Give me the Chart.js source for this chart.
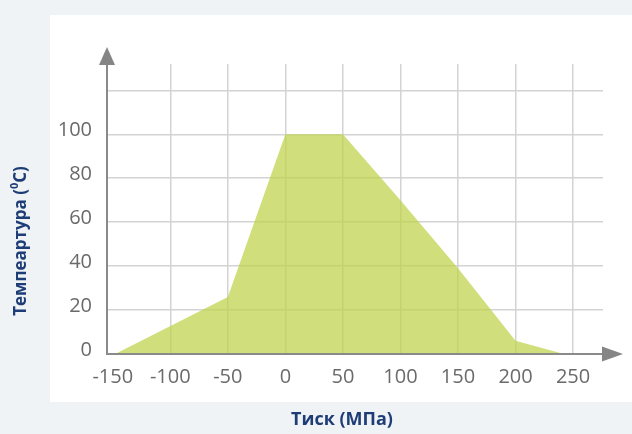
<!DOCTYPE html>
<html><head><meta charset="utf-8">
<script src="https://cdn.jsdelivr.net/npm/chart.js@4/dist/chart.umd.min.js"></script>
<style>html,body{margin:0;padding:0;background:#eff3f6;overflow:hidden}canvas{display:block}</style>
</head><body>
<canvas id="c" width="632" height="434"></canvas>
<script>
// ---- data ----
const pressure = [-148, -50, 0, 50, 100, 150, 200, 242];   // MPa
const temperature = [0, 26, 100, 100, 70, 39, 6, 0];       // °C
const xTickValues = [-150, -100, -50, 0, 50, 100, 150, 200, 250];
const yTickValues = [0, 20, 40, 60, 80, 100, 120];
const yTickLabels = ['0', '20', '40', '60', '80', '100', ''];
const xTitle = 'Тиск (МПа)';
const yTitleParts = ['Темпеартура (', '0', 'C)'];

const points = pressure.map((p, i) => ({x: p, y: temperature[i]}));

const backdrop = {
  id: 'backdrop',
  beforeDraw(chart) {
    const {ctx, width, height} = chart;
    ctx.save();
    ctx.fillStyle = '#eff3f6';
    ctx.fillRect(0, 0, width, height);
    ctx.fillStyle = '#ffffff';
    ctx.fillRect(50, 15, width - 50, 387);
    ctx.restore();
  }
};

const axesArrows = {
  id: 'axesArrows',
  afterDatasetsDraw(chart) {
    const {ctx, chartArea: a} = chart;
    ctx.save();
    ctx.strokeStyle = '#8a8a8a';
    ctx.fillStyle = '#858585';
    ctx.lineWidth = 2;
    ctx.beginPath();
    ctx.moveTo(a.left, a.bottom);
    ctx.lineTo(a.right, a.bottom);
    ctx.moveTo(a.left, a.bottom + 1);
    ctx.lineTo(a.left, a.top);
    ctx.stroke();
    // x arrow
    ctx.beginPath();
    ctx.moveTo(a.right - 1, a.bottom - 7.5);
    ctx.lineTo(a.right + 20, a.bottom);
    ctx.lineTo(a.right - 1, a.bottom + 7.5);
    ctx.closePath();
    ctx.fill();
    // y arrow
    ctx.beginPath();
    ctx.moveTo(a.left - 8, a.top + 1);
    ctx.lineTo(a.left, a.top - 17);
    ctx.lineTo(a.left + 8, a.top + 1);
    ctx.closePath();
    ctx.fill();
    ctx.restore();
  }
};

const titles = {
  id: 'titles',
  afterDraw(chart) {
    const {ctx} = chart;
    ctx.save();
    ctx.fillStyle = '#1e3d76';
    ctx.font = 'bold 18px "Open Sans"';
    ctx.textAlign = 'center';
    ctx.textBaseline = 'middle';
    ctx.fillText(xTitle, 342, 420);
    // rotated y title with superscript
    ctx.translate(21, 241);
    ctx.rotate(-Math.PI / 2);
    const mainFont = 'bold 17px "Open Sans"';
    const supFont = 'bold 11px "Open Sans"';
    ctx.font = mainFont;
    const w1 = ctx.measureText(yTitleParts[0]).width;
    const w3 = ctx.measureText(yTitleParts[2]).width;
    ctx.font = supFont;
    const w2 = ctx.measureText(yTitleParts[1]).width;
    let x = -(w1 + w2 + w3) / 2;
    ctx.textAlign = 'left';
    ctx.font = mainFont;
    ctx.fillText(yTitleParts[0], x, 0);
    x += w1;
    ctx.font = supFont;
    ctx.fillText(yTitleParts[1], x, -6);
    x += w2;
    ctx.font = mainFont;
    ctx.fillText(yTitleParts[2], x, 0);
    ctx.restore();
  }
};

new Chart(document.getElementById('c'), {
  type: 'line',
  data: {
    datasets: [{
      data: points,
      fill: 'origin',
      backgroundColor: 'rgba(190,211,72,0.72)',
      borderWidth: 0,
      borderColor: 'rgba(0,0,0,0)',
      pointRadius: 0,
      tension: 0
    }]
  },
  options: {
    responsive: false,
    animation: false,
    devicePixelRatio: 1,
    layout: {padding: {top: 64, right: 29, bottom: 0, left: 0}},
    plugins: {legend: {display: false}, tooltip: {enabled: false}},
    scales: {
      x: {
        type: 'linear',
        min: -155,
        max: 276,
        afterBuildTicks: s => { s.ticks = xTickValues.map(v => ({value: v})); },
        afterFit: s => { s.height = 80; },
        border: {display: false},
        grid: {
          drawTicks: false,
          lineWidth: 1.5,
          color: c => (c.tick && c.tick.value === xTickValues[0]) ? 'rgba(0,0,0,0)' : '#d3d3d3'
        },
        ticks: {
          autoSkip: false,
          maxRotation: 0,
          padding: 11,
          color: '#6a6a6a',
          font: {family: '"Open Sans"', size: 20},
          callback: v => String(v)
        }
      },
      y: {
        type: 'linear',
        min: 0,
        max: 132,
        afterBuildTicks: s => { s.ticks = yTickValues.map(v => ({value: v})); },
        afterFit: s => { s.width = 107; },
        border: {display: false},
        grid: {
          drawTicks: false,
          lineWidth: 1.5,
          color: c => (c.tick && c.tick.value === 0) ? 'rgba(0,0,0,0)' : '#d3d3d3'
        },
        ticks: {
          padding: 15,
          labelOffset: -4,
          color: '#6a6a6a',
          font: {family: '"Open Sans"', size: 20},
          callback: (v, i) => yTickLabels[i]
        }
      }
    }
  },
  plugins: [backdrop, axesArrows, titles]
});
</script>
</body></html>
